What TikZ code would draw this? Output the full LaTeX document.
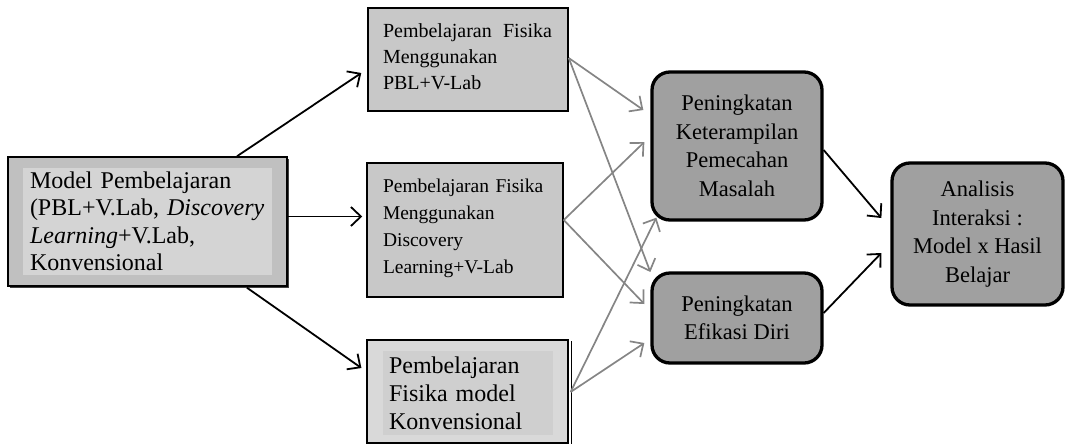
\documentclass[tikz,border=0pt]{standalone}
\usepackage{fontspec}
\setmainfont{Liberation Serif}
\usetikzlibrary{arrows.meta,calc,shadows}
\definecolor{outergray}{HTML}{C0C0C0}
\definecolor{innergray}{HTML}{D4D4D4}
\definecolor{boxgray}{HTML}{C8C8C8}
\definecolor{lightbox}{HTML}{D9D9D9}
\definecolor{lightinner}{HTML}{CFCFCF}
\definecolor{roundgray}{HTML}{A0A0A0}
\definecolor{arrowgray}{HTML}{858585}
\begin{document}
\begin{tikzpicture}[x=1pt,y=-1pt,
  sqbox/.style={draw=black,line width=1.5pt,fill=boxgray,inner sep=0pt},
  rbox/.style={draw=black,line width=3.3pt,fill=roundgray,rounded corners=18pt,
    inner sep=0pt,align=center,font=\fontsize{22.5}{28.5}\selectfont},
  blk/.style={draw=black,line width=1.8pt,
    -{Straight Barb[length=10pt,width=19pt,line width=1.8pt]}},
  gry/.style={draw=arrowgray,line width=1.7pt,
    -{Straight Barb[length=10pt,width=19pt,line width=1.7pt]}},
]
\useasboundingbox (0,0) rectangle (1065,445);
\clip (0,0) rectangle (1065,445);

% left box
\node[draw=black,line width=1.5pt,fill=outergray,inner sep=0pt,
  minimum width=279pt,minimum height=129pt,
  drop shadow={shadow xshift=2pt,shadow yshift=-2pt,opacity=1,fill=black!75}]
  (L) at (147.5,221.5) {};
\node[fill=innergray,inner xsep=7pt,inner ysep=0pt,text width=235pt,
  minimum height=107pt,align=left,font=\fontsize{24}{27.5}\selectfont]
  (LI) at (L.center) {Model Pembelajaran\\(PBL+V.Lab, \textit{Discovery}\\\textit{Learning}+V.Lab,\\Konvensional};

% middle boxes
\node[sqbox,minimum width=200pt,minimum height=103pt] (B1) at (468,59.5) {};
\node[inner sep=0pt,text width=169pt,align=left,font=\fontsize{20}{26}\selectfont]
  (B1T) at (467.5,57) {\hbox to 169pt{Pembelajaran\hfil Fisika}\\Menggunakan\\PBL+V-Lab};

\node[sqbox,minimum width=196pt,minimum height=134pt] (B2) at (465,230) {};
\node[inner sep=0pt,text width=164pt,align=left,font=\fontsize{19.5}{27}\selectfont]
  (B2T) at (465,228) {Pembelajaran Fisika\\Menggunakan\\Discovery\\Learning+V-Lab};

\node[draw=black,line width=1.2pt,fill=lightbox,inner sep=0pt,
  minimum width=201pt,minimum height=103pt] (B3) at (467.5,391.5) {};
\draw[line width=1.2pt] ($(B3.north east)+(2.5,2)$) -- ($(B3.south east)+(2.5,0)$);
\node[fill=lightinner,inner xsep=6pt,inner ysep=0pt,text width=158pt,
  minimum height=84pt,align=left,font=\fontsize{24}{28}\selectfont]
  (B3T) at (468,393) {Pembelajaran\\Fisika model\\Konvensional};

% rounded boxes
\node[rbox,minimum width=170pt,minimum height=148pt] (K) at (737,146)
  {Peningkatan\\Keterampilan\\Pemecahan\\Masalah};
\node[rbox,minimum width=170pt,minimum height=90pt] (E) at (737,318)
  {Peningkatan\\Efikasi Diri};
\node[rbox,minimum width=171pt,minimum height=142pt] (A) at (977.5,234)
  {Analisis\\Interaksi :\\Model x Hasil\\Belajar};

% black arrows from left box
\draw[blk] ($(L.north)+(89.5,0)$) -- ($(B1.west)+(-6,13.5)$);
\draw[blk] ($(L.east)+(0,-5)$) -- ($(B2.west)+(-4,-13.5)$);
\draw[blk] ($(L.south)+(99.5,1)$) -- ($(B3.west)+(-5,-23.5)$);

% gray arrows
\draw[gry] ($(B1.east)+(0,-1.5)$) -- ($(K.west)+(-7,-36)$);
\draw[gry] ($(B1.east)+(0,-1.5)$) -- ($(E.west)+(0,-46)$);
\draw[gry] ($(B2.east)+(0,-10)$) -- ($(K.west)+(-6,-4)$);
\draw[gry] ($(B2.east)+(0,-10)$) -- ($(E.west)+(-6,-14)$);
\draw[gry] ($(B3.east)+(2,0.5)$) -- ($(K.south west)+(6,-4)$);
\draw[gry] ($(B3.east)+(2,0.5)$) -- ($(E.west)+(-6,25)$);

% black arrows to analysis
\draw[blk] ($(K.east)+(0,4)$) -- ($(A.west)+(-9,-16)$);
\draw[blk] ($(E.east)+(0,-5)$) -- ($(A.west)+(-9,19)$);
\end{tikzpicture}
\end{document}
